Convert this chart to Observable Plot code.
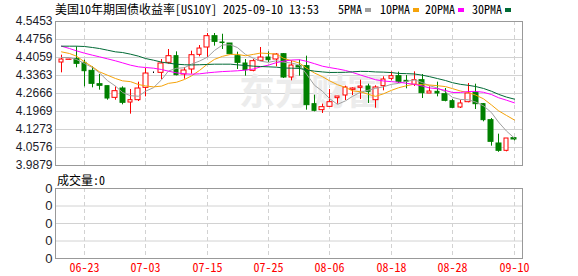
<!DOCTYPE html>
<html><head><meta charset="utf-8">
<script src="https://cdn.jsdelivr.net/npm/d3@7"></script>
<script src="https://cdn.jsdelivr.net/npm/@observablehq/plot@0.6"></script>
<style>
body{margin:0;background:#fff;width:578px;height:276px;overflow:hidden;position:relative;}
.mono{font-family:"Noto Sans Mono CJK SC","Noto Sans CJK SC",monospace;font-size:12px;line-height:14px;color:#000;white-space:pre;position:absolute;}
#main{position:absolute;left:0;top:0}
#vol{position:absolute;left:0;top:170px}
.sw{position:absolute;width:6px;height:4px}
</style></head><body>
<div id="vol"></div>
<div id="main"></div>
<div id="title" class="mono" style="left:55px;top:2px"></div>
<div id="legend"></div>
<div id="vollabel" class="mono" style="left:57px;top:173px"></div>
<script>
const titleText = "美国10年期国债收益率[US10Y] 2025-09-10 13:53";
const volLabelText = "成交量:0";
const legendLabels = ["5PMA","10PMA","20PMA","30PMA"];
const maColors = ["#a0a0a0","#f5a30a","#ff00ff","#006a35"];
const dates = ["06-18","06-19","06-20","06-23","06-24","06-25","06-26","06-27","06-30","07-01",
"07-02","07-03","07-04","07-07","07-08","07-09","07-10","07-11","07-14","07-15",
"07-16","07-17","07-18","07-21","07-22","07-23","07-24","07-25","07-28","07-29",
"07-30","07-31","08-01","08-04","08-05","08-06","08-07","08-08","08-11","08-12",
"08-13","08-14","08-15","08-18","08-19","08-20","08-21","08-22","08-25","08-26",
"08-27","08-28","08-29","09-02","09-03","09-04","09-05","09-08","09-09","09-10"];
const xTickDates = ["06-23","07-03","07-15","07-25","08-06","08-18","08-28","09-10"];
const yTicks = [4.5453,4.4756,4.4059,4.3363,4.2666,4.1969,4.1273,4.0576,3.9879];
const volTickLabels = ["0","0","0","0","0"];
const open = [4.3865,4.3970,4.3995,4.3853,4.3543,4.3027,4.2950,4.2498,4.2859,4.2317,
4.2408,4.2885,4.3450,4.3466,4.3853,4.4111,4.3401,4.3595,4.4162,4.4446,
4.4885,4.4640,4.4601,4.4111,4.3827,4.3543,4.3930,4.4059,4.3982,4.4188,
4.3285,4.3724,4.3724,4.2253,4.2021,4.2150,4.2485,4.2588,4.2807,4.2885,
4.2937,4.2408,4.2950,4.3234,4.3337,4.3156,4.3001,4.3182,4.2666,4.2730,
4.2640,4.2369,4.2124,4.2330,4.2692,4.2253,4.1634,4.0731,4.0447,4.0937];
const high = [4.4150,4.3990,4.4472,4.3956,4.3698,4.3401,4.2950,4.2924,4.2924,4.2821,
4.3104,4.3633,4.3500,4.3982,4.4369,4.4278,4.3672,4.4304,4.4523,4.4988,
4.4988,4.4960,4.4601,4.4265,4.3982,4.3982,4.4446,4.4278,4.4214,4.4214,
4.3930,4.3956,4.4111,4.2601,4.2253,4.2821,4.2550,4.2950,4.2885,4.3182,
4.3027,4.2963,4.3311,4.3505,4.3492,4.3363,4.3505,4.3401,4.2924,4.3104,
4.2859,4.2434,4.2408,4.3053,4.3027,4.2279,4.1698,4.1092,4.0924,4.0963];
const low = [4.3466,4.3970,4.3660,4.2924,4.2885,4.2795,4.2407,4.2407,4.2228,4.1866,
4.2356,4.2537,4.3440,4.3208,4.3801,4.3350,4.3221,4.3414,4.4085,4.4059,
4.4498,4.4370,4.4188,4.3595,4.3337,4.3505,4.3904,4.3865,4.3698,4.3247,
4.3156,4.3337,4.2021,4.1956,4.1892,4.2124,4.2253,4.2395,4.2588,4.2434,
4.2279,4.2098,4.2769,4.3156,4.3053,4.2847,4.2937,4.2473,4.2666,4.2537,
4.2343,4.2085,4.2085,4.2305,4.2046,4.1570,4.0627,4.0390,4.0408,4.0834];
const close = [4.3982,4.3980,4.3814,4.3530,4.3040,4.2963,4.2472,4.2756,4.2305,4.2408,
4.2859,4.3440,4.3450,4.3827,4.4111,4.3375,4.3556,4.4149,4.4407,4.4885,
4.4665,4.4620,4.4188,4.3853,4.3569,4.3917,4.4059,4.3956,4.4175,4.3285,
4.3749,4.3672,4.2214,4.1995,4.2137,4.2330,4.2550,4.2898,4.2859,4.2937,
4.2730,4.2898,4.3208,4.3337,4.3118,4.3118,4.3182,4.2679,4.2743,4.2666,
4.2382,4.2111,4.2280,4.2666,4.2253,4.1634,4.0795,4.0447,4.0924,4.0886];
const ma5 = [4.4059,4.4059,4.3982,4.3827,4.3669,4.3465,4.3164,4.2952,4.2707,4.2581,
4.2560,4.2754,4.2892,4.3197,4.3537,4.3641,4.3664,4.3804,4.3920,4.4074,
4.4332,4.4545,4.4553,4.4442,4.4179,4.4029,4.3917,4.3871,4.3935,4.3878,
4.3845,4.3767,4.3419,4.2983,4.2753,4.2470,4.2245,4.2382,4.2555,4.2715,
4.2795,4.2864,4.2926,4.3022,4.3058,4.3136,4.3193,4.3087,4.2968,4.2878,
4.2730,4.2516,4.2436,4.2421,4.2338,4.2189,4.1926,4.1559,4.1211,4.0937];
const ma10 = [4.4278,4.4214,4.4111,4.3891,4.3698,4.3504,4.3375,4.3246,4.3156,4.3125,
4.3013,4.2959,4.2922,4.2952,4.3059,4.3101,4.3209,4.3348,4.3559,4.3806,
4.3987,4.4105,4.4179,4.4181,4.4127,4.4181,4.4231,4.4212,4.4189,4.4029,
4.3937,4.3842,4.3645,4.3459,4.3316,4.3158,4.3006,4.2901,4.2769,4.2734,
4.2633,4.2555,4.2654,4.2789,4.2887,4.2966,4.3029,4.3007,4.2995,4.2968,
4.2933,4.2855,4.2762,4.2695,4.2608,4.2460,4.2221,4.1998,4.1816,4.1638];
const ma20 = [4.4498,4.4407,4.4317,4.4227,4.4149,4.4085,4.4008,4.3930,4.3853,4.3762,
4.3698,4.3672,4.3646,4.3595,4.3530,4.3466,4.3427,4.3414,4.3427,4.3466,
4.3490,4.3515,4.3530,4.3545,4.3570,4.3615,4.3695,4.3765,4.3862,4.3918,
4.3962,4.3974,4.3912,4.3820,4.3722,4.3670,4.3619,4.3557,4.3479,4.3382,
4.3285,4.3199,4.3150,4.3124,4.3102,4.3062,4.3018,4.2954,4.2882,4.2851,
4.2783,4.2705,4.2708,4.2742,4.2748,4.2713,4.2625,4.2503,4.2406,4.2303];
const ma30 = [4.4498,4.4498,4.4498,4.4485,4.4446,4.4407,4.4343,4.4278,4.4252,4.4188,
4.4111,4.4020,4.3956,4.3880,4.3840,4.3800,4.3780,4.3770,4.3780,4.3790,
4.3801,4.3801,4.3801,4.3775,4.3750,4.3724,4.3711,4.3698,4.3685,4.3653,
4.3646,4.3635,4.3582,4.3531,4.3501,4.3480,4.3482,4.3487,4.3506,4.3523,
4.3519,4.3501,4.3493,4.3476,4.3443,4.3435,4.3422,4.3373,4.3318,4.3244,
4.3168,4.3084,4.3020,4.2981,4.2937,4.2861,4.2752,4.2635,4.2527,4.2447];
const watermark = "东方财富";

// title / legend
document.getElementById("title").textContent = titleText;
document.getElementById("vollabel").textContent = volLabelText;
const legendX = [338,380,425,472];
const leg = document.getElementById("legend");
legendLabels.forEach((t,k)=>{
  const s = document.createElement("div"); s.className="mono"; s.style.left=legendX[k]+"px"; s.style.top="2px"; s.textContent=t; leg.appendChild(s);
  const w = document.createElement("div"); w.className="sw"; w.style.left=(legendX[k]+t.length*6+3)+"px"; w.style.top="8px"; w.style.background=maColors[k]; leg.appendChild(w);
});

const candles = dates.map((d,i)=>({i, open:open[i], high:high[i], low:low[i], close:close[i]}));
const col = d => d.close>d.open ? "#ff0000" : d.close<d.open ? "#008000" : "#000000";
const tickIdx = xTickDates.map(d=>dates.indexOf(d));
const maSeries = [ma5,ma10,ma20,ma30].map((arr,k)=>arr.map((v,i)=>({i,v,k})));

const xDomain = [-0.78, 60.1];
const main = Plot.plot({
  width:578, height:176, marginTop:21, marginBottom:11, marginLeft:55, marginRight:56,
  x:{domain:xDomain, axis:null, round:true},
  y:{domain:[3.9879,4.5453], ticks:yTicks, tickFormat:d=>d.toFixed(4), tickSize:0, tickPadding:3},
  style:{fontFamily:"'Liberation Sans', Arial, sans-serif", fontSize:"12px", color:"#1c1c2a", background:"transparent"},
  marks:[
    Plot.ruleY(yTicks,{stroke:"#d2d2d2"}),
    Plot.ruleX(tickIdx,{stroke:"#d2d2d2", strokeDasharray:"4,3"}),
    Plot.text([watermark],{frameAnchor:"middle", dx:22, dy:0, fontSize:36, fontWeight:"bold", fill:"#ececec", fontFamily:"'Noto Sans CJK SC'"}),
    Plot.ruleX(candles,{x:"i", y1:"low", y2:"high", stroke:col}),
    Plot.rect(candles,{x1:d=>d.i-0.3, x2:d=>d.i+0.3, y1:"open", y2:"close", fill:d=>d.close>=d.open?"#ffffff":"#008000", stroke:col}),
    ...maSeries.map((s,k)=>Plot.line(s,{x:"i", y:"v", stroke:maColors[k], strokeWidth:1})),
    Plot.frame({stroke:"#999999"})
  ]
});
document.getElementById("main").appendChild(main);

const vol = Plot.plot({
  width:578, height:106, marginTop:18, marginBottom:18, marginLeft:55, marginRight:56,
  x:{domain:xDomain, round:true},
  y:{domain:[0,1]},
  style:{fontFamily:"'Liberation Sans', Arial, sans-serif", fontSize:"13px", color:"#1c1c2a", background:"transparent"},
  marks:[
    Plot.ruleY([0.25,0.5,0.75],{stroke:"#d2d2d2"}),
    Plot.ruleX(tickIdx,{stroke:"#d2d2d2", strokeDasharray:"4,3"}),
    Plot.axisY([0,0.25,0.5,0.75,1],{tickFormat:(d,k)=>volTickLabels[k], tickSize:0, tickPadding:3, fontSize:13}),
    Plot.axisX(tickIdx,{tickFormat:i=>dates[i], tickSize:0, tickPadding:5, color:"#ff0000", fontFamily:"'Noto Sans Mono CJK SC','Noto Sans CJK SC',monospace", fontSize:12}),
    Plot.frame({stroke:"#999999"})
  ]
});
document.getElementById("vol").appendChild(vol);
</script>
</body></html>
